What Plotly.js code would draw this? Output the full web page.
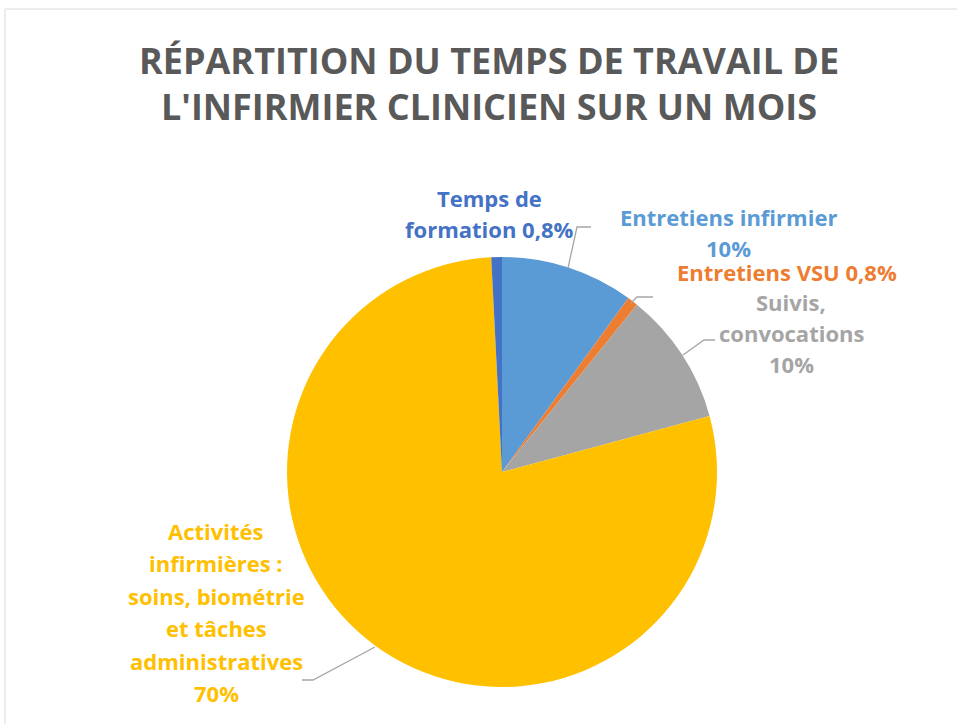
<!DOCTYPE html>
<html>
<head>
<meta charset="utf-8">
<script src="https://cdn.plot.ly/plotly-3.0.1.min.js"></script>
<style>html,body{margin:0;padding:0;background:#fff;}#chart{width:957px;height:724px;}</style>
</head>
<body>
<div id="chart"></div>
<script>
// ---- data ----
const categories = ["Entretiens infirmier", "Entretiens VSU", "Suivis, convocations",
  "Activités infirmières : soins, biométrie et tâches administratives", "Temps de formation"];
const sliceValues = [10, 0.8, 10, 78.4, 0.8];          // slice sizes
const shownPercent = ["10%", "0,8%", "10%", "70%", "0,8%"]; // percentages as printed
const sliceColors = ["#5B9BD5", "#ED7D31", "#A5A5A5", "#FFC000", "#4472C4"];
const labelLines = [
  ["Entretiens infirmier", "10%"],
  ["Entretiens VSU 0,8%"],
  ["Suivis,", "convocations", "10%"],
  ["Activités", "infirmières :", "soins, biométrie", "et tâches", "administratives", "70%"],
  ["Temps de", "formation 0,8%"]
];
const titleLines = ["RÉPARTITION DU TEMPS DE TRAVAIL DE", "L'INFIRMIER CLINICIEN SUR UN MOIS"];

// ---- layout helpers (pixel -> paper) ----
const W = 957, H = 724;
const px = x => x / W, py = y => 1 - y / H;
const FONT = "'Open Sans', Lato, sans-serif";

// label placement: center x, first-line y, line step
const labelPos = [
  {x: 728, y: 217, step: 31},
  {x: 787, y: 272, step: 32},
  {x: 791, y: 302, step: 31},
  {x: 216, y: 531, step: 32.4},
  {x: 489, y: 198, step: 31}
];
const leaderPaths = [
  null,
  [[653, 297], [637, 297], [631, 303]],
  [[715, 340], [704, 340], [683, 355]],
  [[302, 680], [313, 680], [375, 647]],
  [[591, 227], [577, 227], [568, 268]]
];

const annotations = [];
labelLines.forEach((lines, i) => {
  lines.forEach((t, j) => {
    annotations.push({
      xref: "paper", yref: "paper", x: px(labelPos[i].x), y: py(labelPos[i].y + j * labelPos[i].step),
      xanchor: "center", yanchor: "middle", showarrow: false, text: "<b>" + t + "</b>",
      font: {family: FONT, size: 22, color: sliceColors[i]}
    });
  });
});
titleLines.forEach((t, j) => {
  annotations.push({
    xref: "paper", yref: "paper", x: px(488.5), y: py(60 + j * 47),
    xanchor: "center", yanchor: "middle", showarrow: false, text: "<b>" + t + "</b>",
    font: {family: FONT, size: 36, color: "#595959"}
  });
});

const shapes = [{
  type: "rect", xref: "paper", yref: "paper", x0: px(5), y0: py(9), x1: px(1000), y1: py(800),
  line: {color: "#D9D9D9", width: 1}, fillcolor: "rgba(0,0,0,0)", layer: "below"
}];
leaderPaths.forEach(p => {
  if (!p) return;
  const d = p.map((pt, k) => (k ? "L" : "M") + px(pt[0]) + "," + py(pt[1])).join(" ");
  shapes.push({type: "path", xref: "paper", yref: "paper", path: d, line: {color: "#A6A6A6", width: 1.3}});
});

const cx = 502, cy = 472, r = 215;
const trace = {
  type: "pie",
  labels: categories,
  values: sliceValues,
  text: shownPercent,
  sort: false,
  direction: "clockwise",
  rotation: 0,
  textinfo: "none",
  hoverinfo: "label+text",
  marker: {colors: sliceColors, line: {width: 0}},
  domain: {x: [px(cx - r), px(cx + r)], y: [py(cy + r), py(cy - r)]},
  showlegend: false
};

Plotly.newPlot("chart", [trace], {
  width: W, height: H,
  margin: {l: 0, r: 0, t: 0, b: 0},
  paper_bgcolor: "#fff",
  showlegend: false,
  annotations: annotations,
  shapes: shapes
}, {displayModeBar: false, staticPlot: true});
</script>
</body>
</html>
